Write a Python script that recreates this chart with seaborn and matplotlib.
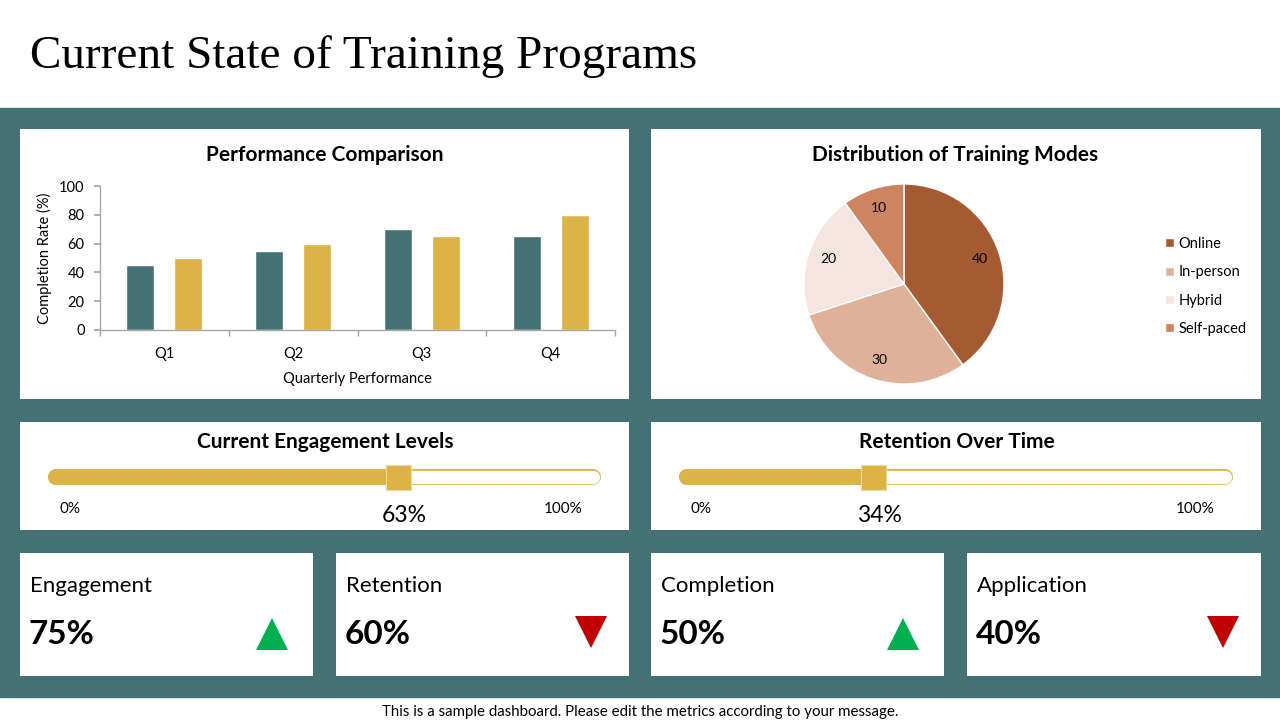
import matplotlib
matplotlib.use("Agg")
import matplotlib.pyplot as plt
import pandas as pd
import seaborn as sns
from matplotlib.patches import Rectangle

page_title = "Current State of Training Programs"
footer_note = "This is a sample dashboard. Please edit the metrics according to your message."

quarters = ["Q1", "Q2", "Q3", "Q4"]
series_names = ["Series 1", "Series 2"]
series_1 = [45, 55, 70, 65]
series_2 = [50, 60, 65, 80]
y_ticks = [0, 20, 40, 60, 80, 100]

modes = ["Online", "In-person", "Hybrid", "Self-paced"]
mode_shares = [40, 30, 20, 10]

slider_titles = ["Current Engagement Levels", "Retention Over Time"]
slider_values = [63, 34]

card_labels = ["Engagement", "Retention", "Completion", "Application"]
card_values = [75, 60, 50, 40]
card_trends = ["up", "down", "up", "down"]

TEAL = "#467174"
GOLD = "#DBB346"
GREEN = "#00B050"
RED = "#C00000"
pie_colors = ["#A65A32", "#DFB199", "#F4E5DF", "#CD8460"]
W, H = 1280, 720

sns.set_theme(style="ticks")
plt.rcParams["font.family"] = ["Lato", "DejaVu Sans"]
plt.rcParams["text.color"] = "black"
plt.rcParams["axes.labelcolor"] = "black"


def box(x0, y0, x1, y1):
    return [x0 / W, 1 - y1 / H, (x1 - x0) / W, (y1 - y0) / H]


def ftext(x, y, s, **kw):
    kw.setdefault("va", "center")
    fig.text(x / W, 1 - y / H, s, **kw)


def panel(x0, y0, x1, y1):
    ax = fig.add_axes(box(x0, y0, x1, y1))
    ax.set_xticks([])
    ax.set_yticks([])
    ax.set_xlim(0, 1)
    ax.set_ylim(0, 1)
    for s in ax.spines.values():
        s.set_visible(False)
    ax.set_facecolor("white")
    return ax


fig = plt.figure(figsize=(12.8, 7.2), dpi=100, facecolor="white")
fig.add_artist(Rectangle((0, 1 - 697 / H), 1, (697 - 108) / H,
                         transform=fig.transFigure, color=TEAL, zorder=0))

ftext(30, 57, page_title, family=["Liberation Serif", "DejaVu Serif"], size=34)
ftext(640, 712, footer_note, size=10.8, ha="center")

# --- performance comparison ---
panel(20, 129, 629, 399)
panel(651, 129, 1261, 399)
ftext(325, 155, "Performance Comparison", size=15, weight="bold", ha="center")
ftext(955, 155, "Distribution of Training Modes", size=15, weight="bold", ha="center")

df = pd.DataFrame({
    "quarter": quarters * 2,
    "series": [series_names[0]] * 4 + [series_names[1]] * 4,
    "rate": series_1 + series_2,
})
ax = fig.add_axes(box(100, 186, 615, 330))
sns.barplot(data=df, x="quarter", y="rate", hue="series", palette=[TEAL, GOLD],
            width=0.746, gap=0.417, saturation=1, legend=False, ax=ax)
ax.set_xlim(-0.5, 3.5)
ax.set_ylim(0, 100)
ax.set_yticks(y_ticks)
ax.set_xticks([-0.5, 0.5, 1.5, 2.5, 3.5], minor=True)
sns.despine(ax=ax)
for s in ["left", "bottom"]:
    ax.spines[s].set_color("#A6A6A6")
    ax.spines[s].set_linewidth(1)
ax.tick_params(axis="x", which="major", length=0, pad=12, labelsize=10.5, labelcolor="black")
ax.tick_params(axis="x", which="minor", length=4, color="#A6A6A6")
ax.tick_params(axis="y", length=4, color="#A6A6A6", pad=7, labelsize=10.5, labelcolor="black")
ax.set_ylabel("Completion Rate (%)", size=10.5, labelpad=5)
ax.set_xlabel("Quarterly Performance", size=10.5, labelpad=8)

# --- pie ---
pax = fig.add_axes(box(804, 184, 1004, 384))
wedges, texts = pax.pie(mode_shares, colors=pie_colors, startangle=90,
                        counterclock=False, labels=[str(v) for v in mode_shares],
                        labeldistance=0.8, textprops={"size": 10, "color": "black"})
for t in texts:
    t.set_ha("center")
    t.set_va("center")
pax.set_xlim(-1, 1)
pax.set_ylim(-1, 1)
fig.legend(wedges, modes, loc="upper left", bbox_to_anchor=(1165 / W, 1 - 237 / H),
           frameon=False, fontsize=10.5, handlelength=0.6, handleheight=0.6,
           handletextpad=0.3, labelspacing=0.98, borderpad=0, borderaxespad=0)

# --- sliders ---
slider_boxes = [(20, 422, 629, 530), (651, 422, 1261, 530)]
for (x0, y0, x1, y1), title, val in zip(slider_boxes, slider_titles, slider_values):
    panel(x0, y0, x1, y1)
    ftext((x0 + x1) / 2 + 1, 442, title, size=15, weight="bold", ha="center")
    sax = fig.add_axes(box(x0 + 36, 462, x1 - 36, 492))
    sax.set_xlim(0, 100)
    sax.set_ylim(-1, 1)
    sax.axis("off")
    sax.plot([0, 100], [0, 0], color=GOLD, lw=11.5, solid_capstyle="round", clip_on=False)
    sax.plot([val, 100], [0, 0], color="white", lw=9.6, solid_capstyle="round", clip_on=False)
    sax.plot([0, val], [0, 0], color=GOLD, lw=11.5, solid_capstyle="round", clip_on=False)
    sax.plot([val + 0.6], [0], marker="s", markersize=18, color=GOLD, mec="#EFD9A0", mew=0.8,
             clip_on=False)
    sax.text(2.6, -2.15, "0%", ha="center", va="center", size=11)
    sax.text(94.4, -2.15, "100%", ha="center", va="center", size=11)
    sax.text(val + 1.8, -2.55, f"{val}%", ha="center", va="center", size=16.5)

# --- KPI cards ---
card_boxes = [(20, 553, 313, 676), (336, 553, 629, 676),
              (651, 553, 944, 676), (967, 553, 1261, 676)]
for (x0, y0, x1, y1), label, val, trend in zip(card_boxes, card_labels, card_values, card_trends):
    cax = panel(x0, y0, x1, y1)
    ftext(x0 + 10, 586, label, size=16)
    ftext(x0 + 9, 635, f"{val}%", size=24, weight="bold")
    if trend == "up":
        cax.plot([0.86], [0.34], marker="^", markersize=23, color=GREEN, mew=0)
    else:
        cax.plot([0.87], [0.36], marker="v", markersize=23, color=RED, mew=0)

fig.savefig("out.png", dpi=100, facecolor="white")
